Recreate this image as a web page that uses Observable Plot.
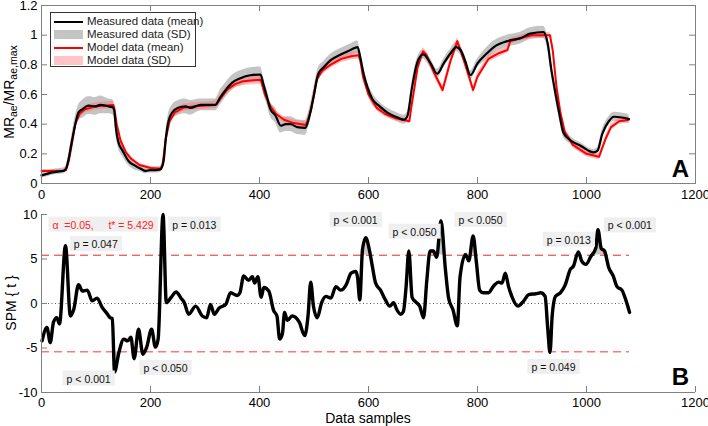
<!DOCTYPE html>
<html><head><meta charset="utf-8">
<script src="https://cdn.jsdelivr.net/npm/d3@7"></script>
<script src="https://cdn.jsdelivr.net/npm/@observablehq/plot@0.6"></script>
<style>
body{margin:0;background:#fff;}
#wrap{position:relative;width:708px;height:426px;font-family:"Liberation Sans",Arial,sans-serif;overflow:hidden;}
#top,#bot{position:absolute;left:0;}
#top{top:0}
#bot{top:200px}
#legend{position:absolute;left:50px;top:12px;width:146px;height:55px;border:1px solid #333;background:#fff;box-sizing:border-box;font-size:11.5px;color:#222;}
#legend .row{position:absolute;left:2px;height:13px;}
#legend .sw{position:absolute;left:1px;width:29px;}
#legend .lb{position:absolute;left:34px;top:-1px;white-space:nowrap;line-height:14px;}
</style></head>
<body>
<div id="wrap"><div id="top"></div><div id="bot"></div><div id="legend"></div></div>
<script>
// ---------- data ----------
const xTicks = [0, 200, 400, 600, 800, 1000, 1200];
const topYTicks = [0, 0.2, 0.4, 0.6, 0.8, 1, 1.2];
const botYTicks = [-10, -5, 0, 5, 10];

const measX = [
0,10,20,30,40,45,50,55,62,68,
75,86,99,108,123,130,133,137,141,149,
160,172,182,191,200,209,218,224,228,233,
240,251,264,273,292,310,319,328,338,350,
365,383,402,407,414,420,429,439,448,457,
469,484,490,499,508,517,530,549,567,580,
585,591,598,607,619,634,653,665,671,680,
689,700,714,726,738,750,761,769,778,787,
800,818,830,855,879,897,921,929,935,941,
949,958,971,989,1013,1020,1029,1041,1050,1065,
1078];
const measMean = [
0.055,0.065,0.075,0.08,0.085,0.10,0.17,0.27,0.40,0.48,
0.50,0.525,0.52,0.53,0.52,0.515,0.50,0.36,0.28,0.22,
0.15,0.12,0.10,0.085,0.09,0.09,0.095,0.15,0.30,0.42,
0.48,0.51,0.52,0.51,0.53,0.53,0.53,0.58,0.63,0.68,
0.71,0.73,0.735,0.67,0.58,0.50,0.46,0.39,0.40,0.40,
0.38,0.375,0.43,0.58,0.74,0.78,0.83,0.87,0.90,0.92,
0.85,0.74,0.65,0.57,0.525,0.48,0.445,0.43,0.45,0.65,
0.81,0.87,0.81,0.74,0.81,0.875,0.92,0.90,0.82,0.73,
0.81,0.88,0.92,0.96,0.98,1.01,1.02,0.94,0.78,0.65,
0.49,0.34,0.29,0.255,0.21,0.22,0.335,0.42,0.45,0.445,
0.435];
const measSD = [
0.02,0.02,0.02,0.02,0.02,0.02,0.03,0.04,0.05,0.05,
0.06,0.06,0.06,0.06,0.05,0.05,0.05,0.05,0.04,0.04,
0.03,0.03,0.02,0.02,0.02,0.02,0.02,0.03,0.04,0.05,
0.05,0.05,0.05,0.05,0.04,0.04,0.04,0.05,0.05,0.05,
0.05,0.05,0.05,0.05,0.05,0.05,0.05,0.05,0.05,0.05,
0.05,0.05,0.05,0.05,0.04,0.04,0.04,0.04,0.04,0.04,
0.04,0.04,0.04,0.04,0.03,0.03,0.03,0.03,0.03,0.04,
0.03,0.03,0.03,0.03,0.03,0.03,0.03,0.03,0.03,0.03,
0.03,0.04,0.04,0.04,0.04,0.04,0.04,0.04,0.04,0.04,
0.03,0.03,0.025,0.02,0.02,0.02,0.03,0.03,0.03,0.03,
0.03];

const modelX = [
0,40,45,50,55,62,70,80,100,132,
134,138,145,155,165,180,200,218,222,228,
235,245,260,280,320,330,340,355,370,402,
404,410,420,430,445,460,485,488,495,505,
515,530,550,570,582,585,590,600,615,630,
650,675,678,690,700,706,720,736,750,763,
776,792,800,820,840,855,860,880,900,933,
938,945,952,960,975,1000,1023,1027,1035,1045,
1060,1078];
const modelMean = [
0.085,0.085,0.09,0.15,0.25,0.40,0.47,0.50,0.52,0.53,
0.50,0.40,0.29,0.21,0.165,0.125,0.105,0.10,0.12,0.30,
0.42,0.48,0.51,0.52,0.53,0.58,0.63,0.67,0.69,0.70,
0.68,0.60,0.52,0.47,0.43,0.41,0.395,0.42,0.50,0.70,
0.76,0.80,0.84,0.86,0.865,0.83,0.72,0.60,0.51,0.47,
0.44,0.42,0.50,0.78,0.89,0.87,0.75,0.63,0.82,0.96,
0.82,0.63,0.72,0.84,0.88,0.90,0.96,0.98,1.00,1.00,
0.90,0.65,0.48,0.35,0.26,0.20,0.18,0.22,0.30,0.38,
0.42,0.43];
const modelSD = [
0.01,0.01,0.01,0.015,0.02,0.02,0.025,0.025,0.025,0.025,
0.025,0.02,0.02,0.015,0.015,0.01,0.01,0.01,0.01,0.02,
0.02,0.025,0.025,0.025,0.025,0.025,0.025,0.025,0.03,0.03,
0.03,0.025,0.025,0.02,0.02,0.02,0.02,0.02,0.025,0.025,
0.025,0.025,0.025,0.025,0.025,0.025,0.025,0.02,0.02,0.02,
0.015,0.015,0.02,0.025,0.025,0.025,0.025,0.025,0.025,0.025,
0.025,0.025,0.025,0.025,0.025,0.02,0.02,0.02,0.02,0.02,
0.02,0.02,0.02,0.02,0.02,0.02,0.02,0.02,0.02,0.02,
0.02,0.02];

const spmX = [
1,10,16,22,28,33,44,53,59,68,
75,84,93,102,111,121,126,130,134,142,
151,158,164,170,178,186,193,202,209,214,
223,229,238,247,256,262,270,283,295,303,
310,317,326,338,347,359,364,371,380,387,
391,397,403,408,417,426,432,437,442,446,
451,460,473,483,489,494,499,506,514,522,
531,540,549,559,568,577,580,584,589,595,
601,607,613,622,631,639,646,652,659,664,
669,674,680,688,694,701,707,713,719,725,
733,741,747,755,763,768,778,784,792,798,
804,811,820,830,839,845,851,857,863,874,
885,894,907,916,924,929,933,937,943,952,
961,970,976,985,991,999,1008,1017,1021,1027,
1033,1041,1049,1056,1065,1071,1079];
const spmT = [
-4.2,-2.7,-4.4,-2.1,-1.6,-2.3,6.5,-1.4,-0.7,2.1,
1.4,1.5,0.3,0.6,-0.4,-1.2,-1.6,-1.7,-7.7,-5.5,
-4.0,-4.2,-3.8,-6.2,-2.9,-5.7,-4.9,-2.9,-4.9,-4.0,
10.0,0.1,0.7,1.3,0.6,0.1,-1.2,-0.3,-1.4,-1.6,
-0.1,-1.2,-0.5,-0.1,1.2,0.9,1.2,3.1,2.6,3.0,
2.3,3.0,0.7,1.8,1.4,-0.8,-1.4,-4.0,-3.4,-1.0,
-1.9,-1.4,-2.1,-3.6,-1.4,2.4,-0.3,-1.6,0.1,0.8,
0.6,1.9,1.5,2.1,3.4,3.6,2.9,0.4,6.1,7.4,
6.2,4.2,2.3,1.5,0.4,-0.3,0.1,-0.7,-1.2,-0.9,
1.9,5.9,0.7,0.1,-0.3,-1.6,2.6,5.9,5.9,5.2,
9.3,3.9,0.6,-0.7,-2.5,3.0,5.5,4.8,7.6,4.6,
1.5,1.2,1.2,2.0,2.4,2.3,3.4,1.9,0.8,-0.3,
0.3,1.0,1.1,1.2,0.8,-2.9,-5.5,-1.4,0.8,1.2,
2.1,3.8,4.2,5.8,4.8,4.4,5.3,6.2,8.3,6.2,
5.9,4.0,3.1,1.9,1.5,0.6,-1.0];

const tCrit = 5.429;
const alphaLabel = "\u03b1\u00a0 =0.05,\u00a0\u00a0\u00a0\u00a0 t* = 5.429";
const alphaAt = [20, 8.8];
const annText = ["p = 0.047","p = 0.013","p < 0.001","p < 0.050","p < 0.001","p < 0.050","p < 0.050","p = 0.013","p < 0.001","p = 0.049"];
const annX    = [59, 240, 46, 187, 536, 644, 765, 927, 1039, 899];
const annY    = [6.6, 8.8, -8.5, -7.3, 9.3, 8.0, 9.3, 7.1, 8.7, -7.2];

const legendItems = [
  {label: "Measured data (mean)", kind: "line", color: "#000"},
  {label: "Measured data (SD)", kind: "band", color: "#c4c4c4"},
  {label: "Model data (mean)", kind: "line", color: "#f00"},
  {label: "Model data (SD)", kind: "band", color: "#ffc4c4"}
];

// ---------- tables ----------
const measured = measX.map((x, i) => ({x, m: measMean[i], sd: measSD[i]}));
const model = modelX.map((x, i) => ({x, m: modelMean[i], sd: modelSD[i]}));
const spm = spmX.map((x, i) => ({x, t: spmT[i]}));
const ann = annText.map((s, i) => ({s, x: annX[i], y: annY[i]}));

const FONT = '"Liberation Sans", Arial, Helvetica, sans-serif';
const AX = "#808080";
const W = 708, ML = 41, MR = 13;
const innerW = W - ML - MR;

// ---------- top panel ----------
const TH = 200, TMT = 5, TMB = 17, tInnerH = TH - TMT - TMB;
const topPlot = Plot.plot({
  width: W, height: TH, marginTop: TMT, marginBottom: TMB, marginLeft: ML, marginRight: MR,
  style: {fontFamily: FONT, fontSize: "13px", color: "#000", background: "transparent", overflow: "visible"},
  x: {domain: [0, 1200], ticks: xTicks, tickSize: 0, tickPadding: 6, tickFormat: d => String(d), label: null},
  y: {domain: [0, 1.2], ticks: topYTicks, tickSize: 0, tickPadding: 4, tickFormat: d => String(d), label: null},
  marks: [
    Plot.areaY(measured, {x: "x", y1: d => d.m - d.sd, y2: d => d.m + d.sd, fill: "#c4c4c4", curve: "monotone-x"}),
    Plot.areaY(model, {x: "x", y1: d => d.m - d.sd, y2: d => d.m + d.sd, fill: "#ff7070", fillOpacity: 0.45}),
    Plot.lineY(model, {x: "x", y: "m", stroke: "#f00", strokeWidth: 2}),
    Plot.lineY(measured, {x: "x", y: "m", stroke: "#000", strokeWidth: 2.2, curve: "monotone-x"}),
    Plot.frame({stroke: AX}),
    Plot.tickX(xTicks, {x: d => d, stroke: AX, insetTop: tInnerH - 6}),
    Plot.tickX(xTicks, {x: d => d, stroke: AX, insetBottom: tInnerH - 6}),
    Plot.tickY(topYTicks, {y: d => d, stroke: AX, insetRight: innerW - 6}),
    Plot.tickY(topYTicks, {y: d => d, stroke: AX, insetLeft: innerW - 6})
  ]
});
document.getElementById("top").appendChild(topPlot);

// ---------- bottom panel ----------
const BH = 226, BMT = 14, BMB = 34, bInnerH = BH - BMT - BMB;
const xEnd = d3.max(spmX);
const botPlot = Plot.plot({
  width: W, height: BH, marginTop: BMT, marginBottom: BMB, marginLeft: ML, marginRight: MR,
  style: {fontFamily: FONT, fontSize: "13px", color: "#000", background: "transparent", overflow: "visible"},
  x: {domain: [0, 1200], ticks: xTicks, tickSize: 0, tickPadding: 5, tickFormat: d => String(d), label: null},
  y: {domain: [-10, 10], ticks: botYTicks, tickSize: 0, tickPadding: 4, tickFormat: d => String(d), label: null},
  marks: [
    Plot.areaY(spm, {x: "x", y1: tCrit, y2: "t", fill: "#c8c8c8", curve: "monotone-x"}),
    Plot.areaY(spm, {x: "x", y1: -tCrit, y2: "t", fill: "#c8c8c8", curve: "monotone-x"}),
    Plot.ruleY([0], {x1: 0, x2: xEnd, stroke: "#333", strokeWidth: 0.8, strokeDasharray: "1,2.5"}),
    Plot.ruleY([tCrit], {x1: 0, x2: xEnd, stroke: "#ee3333", strokeWidth: 1.1, strokeDasharray: "8,5"}),
    Plot.ruleY([-tCrit], {x1: 0, x2: xEnd, stroke: "#f77", strokeWidth: 1.4, strokeDasharray: "8,5"}),
    Plot.lineY(spm, {x: "x", y: "t", stroke: "#000", strokeWidth: 3.4, strokeLinejoin: "round", curve: "monotone-x"}),
    Plot.ruleX([0], {stroke: AX}),
    Plot.ruleY([-10], {stroke: AX}),
    Plot.tickX(xTicks, {x: d => d, stroke: AX, insetTop: bInnerH - 6}),
    Plot.tickY(botYTicks, {y: d => d, stroke: AX, insetRight: innerW - 6}),
    Plot.text([alphaLabel], {x: alphaAt[0], y: alphaAt[1], text: d => d, textAnchor: "start", fill: "#f22", fontSize: 10.5}),
    Plot.text(ann, {x: "x", y: "y", text: "s", textAnchor: "start", fill: "#111", fontSize: 10.5})
  ]
});
document.getElementById("bot").appendChild(botPlot);

// ---------- decorations ----------
function boxes(svg) {
  d3.select(svg).selectAll('g[aria-label="text"] text').each(function() {
    const b = this.getBBox();
    const r = d3.select(this.parentNode).insert("rect", () => this)
      .attr("x", b.x - 4).attr("y", b.y - 2).attr("width", b.width + 8).attr("height", b.height + 3)
      .attr("fill", "#efefef");
    const tr = this.getAttribute("transform");
    if (tr) r.attr("transform", tr);
  });
}
boxes(botPlot);

// clip supra-threshold fills
(function() {
  const ys = botPlot.scale("y");
  const yUp = ys.apply(tCrit), yDn = ys.apply(-tCrit);
  const svg = d3.select(botPlot);
  const defs = svg.insert("defs", ":first-child");
  defs.append("clipPath").attr("id", "clipUp").append("rect").attr("x", 0).attr("y", 0).attr("width", W).attr("height", yUp);
  defs.append("clipPath").attr("id", "clipDn").append("rect").attr("x", 0).attr("y", yDn).attr("width", W).attr("height", BH - yDn);
  const areas = svg.selectAll('g[aria-label="area"]').nodes();
  if (areas[0]) d3.select(areas[0]).attr("clip-path", "url(#clipUp)");
  if (areas[1]) d3.select(areas[1]).attr("clip-path", "url(#clipDn)");
})();

// axis titles
(function() {
  const t = d3.select(topPlot).append("text")
    .attr("transform", "translate(14,92) rotate(-90)")
    .attr("text-anchor", "middle").attr("fill", "#000")
    .style("font-family", FONT).style("font-size", "14px");
  t.append("tspan").text("MR");
  t.append("tspan").attr("dy", 3).style("font-size", "10.5px").text("ae");
  t.append("tspan").attr("dy", -3).text("/MR");
  t.append("tspan").attr("dy", 3).style("font-size", "10.5px").text("ae,max");
  d3.select(topPlot).append("text").attr("x", 689).attr("y", 177).attr("text-anchor", "end")
    .style("font-family", FONT).style("font-size", "24px").style("font-weight", "bold").text("A");

  const b = d3.select(botPlot);
  b.append("text").attr("transform", "translate(16,103) rotate(-90)")
    .attr("text-anchor", "middle").style("font-family", FONT).style("font-size", "14px").text("SPM { t }");
  b.append("text").attr("x", 368).attr("y", 223).attr("text-anchor", "middle")
    .style("font-family", FONT).style("font-size", "14px").text("Data samples");
  b.append("text").attr("x", 689).attr("y", 185).attr("text-anchor", "end")
    .style("font-family", FONT).style("font-size", "24px").style("font-weight", "bold").text("B");
})();

// legend
(function() {
  const lg = d3.select("#legend");
  const rowsY = [2, 15, 28, 41];
  legendItems.forEach((it, i) => {
    const r = lg.append("div").attr("class", "row").style("top", rowsY[i] + "px");
    if (it.kind === "line") {
      r.append("div").attr("class", "sw").style("top", "5.5px").style("height", "2.5px").style("background", it.color);
    } else {
      r.append("div").attr("class", "sw").style("top", "2px").style("height", "9px").style("background", it.color);
    }
    r.append("div").attr("class", "lb").text(it.label);
  });
})();
</script>
</body></html>
